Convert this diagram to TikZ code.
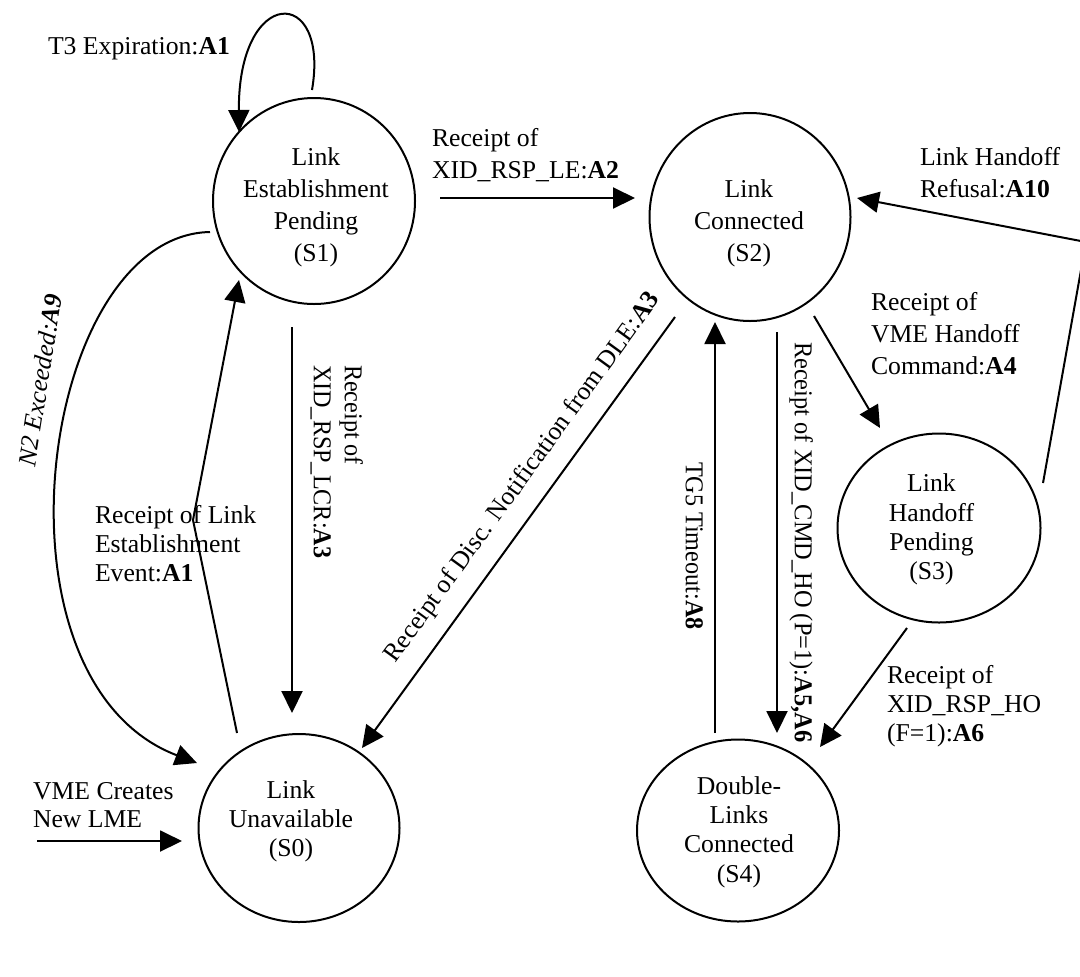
\documentclass[tikz,border=0pt]{standalone}
\usepackage{fontspec}
\setmainfont{Liberation Serif}
\usepackage{graphicx}
\usetikzlibrary{arrows.meta,shapes.geometric}
\begin{document}
\begin{tikzpicture}[x=0.5pt,y=-0.5pt,
  every node/.style={inner sep=0pt,outer sep=0pt},
  txt/.style={font=\fontsize{12.85}{16}\selectfont},
  txtb/.style={font=\fontsize{12.85}{14.6}\selectfont},
  state/.style={draw,ellipse,line width=1pt},
  lbl/.style={align=left,anchor=north west},
  conn/.style={line width=1pt,-{Triangle[length=11pt,width=10.5pt]}}]
\useasboundingbox (0,0) rectangle (1080,976);
\clip (0,0) rectangle (1080,976);

% states
\node[state,minimum width=101pt,minimum height=103pt] (s1) at (314,201) {};
\node[state,minimum width=100.5pt,minimum height=104pt] (s2) at (750,217) {};
\node[state,minimum width=100.5pt,minimum height=94pt] (s0) at (299,828) {};
\node[state,minimum width=101.5pt,minimum height=94.5pt] (s3) at (939,528) {};
\node[state,minimum width=101pt,minimum height=91pt] (s4) at (738,830.5) {};

\node[txt,align=center] (s1t) at (316,207.5) {Link\\Establishment\\Pending\\(S1)};
\node[txt,align=center] (s2t) at (749,223.5) {Link\\Connected\\(S2)};
\node[txtb,align=center] (s0t) at (291,821) {Link\\Unavailable\\(S0)};
\node[txtb,align=center] (s3t) at (931.5,529.5) {Link\\Handoff\\Pending\\(S3)};
\node[txtb,align=center] (s4t) at (739,832) {Double-\\Links\\Connected\\(S4)};

% connector end points
\coordinate (loopA) at (312,90);
\coordinate (loopB) at (239,132);
\coordinate (e12a) at (440,198);
\coordinate (e12b) at (635,198);
\coordinate (e10a) at (292,327);
\coordinate (e10b) at (292,713);
\coordinate (e01a) at (237,733);
\coordinate (e01m) at (193,520);
\coordinate (e01b) at (239,280);
\coordinate (n2a) at (210,232);
\coordinate (n2b) at (197,763);
\coordinate (init) at (37,841);
\coordinate (inite) at (182,841);
\coordinate (e20a) at (675,317);
\coordinate (e20b) at (362,748);
\coordinate (e42a) at (715,733);
\coordinate (e42b) at (715,322);
\coordinate (e24a) at (777,332);
\coordinate (e24b) at (777,733);
\coordinate (e23a) at (814,316);
\coordinate (e23b) at (880,428);
\coordinate (e32a) at (1043,483);
\coordinate (e32m) at (1086,242);
\coordinate (e32b) at (857,198);
\coordinate (e34a) at (907,628);
\coordinate (e34b) at (820,747);

% connectors
\draw[conn] (loopA) .. controls (330,-15) and (238,-15) .. (loopB);
\draw[conn] (e12a) -- (e12b);
\draw[conn] (e10a) -- (e10b);
\draw[conn] (e01a) -- (e01m) -- (e01b);
\draw[conn] (n2a) .. controls (40,235) and (-20,680) .. (n2b);
\draw[conn] (init) -- (inite);
\draw[conn] (e20a) -- (e20b);
\draw[conn] (e42a) -- (e42b);
\draw[conn] (e24a) -- (e24b);
\draw[conn] (e23a) -- (e23b);
\draw[conn] (e32a) -- (e32m) -- (e32b);
\draw[conn] (e34a) -- (e34b);

% labels
\node[txt,lbl] (lT3) at (48,37) {T3 Expiration:\textbf{A1}};
\node[txt,lbl] (lA2) at (432,128) {Receipt of\\XID\_RSP\_LE:\textbf{A2}};
\node[txt,lbl] (lA10) at (920,147) {Link Handoff\\Refusal:\textbf{A10}};
\node[txt,lbl] (lA4) at (871,292) {Receipt of\\VME Handoff\\Command:\textbf{A4}};
\node[txtb,lbl] (lEv) at (95,505) {Receipt of Link\\Establishment\\Event:\textbf{A1}};
\node[font=\fontsize{12.85}{14}\selectfont,lbl] (lVME) at (33,782) {VME Creates\\New LME};
\node[txtb,lbl] (lA6) at (887,665) {Receipt of\\XID\_RSP\_HO\\(F=1):\textbf{A6}};

\node[font=\fontsize{12.85}{15.5}\selectfont,lbl,rotate=-90] (lLCR) at (363,365)
  {\scalebox{0.94}[1]{Receipt of}\\\scalebox{0.94}[1]{XID\_RSP\_LCR:\textbf{A3}}};
\node[txt,anchor=north west,rotate=-90] (lTG5) at (703,462)
  {\scalebox{0.94}[1]{TG5 Timeout:\textbf{A8}}};
\node[txt,anchor=north west,rotate=-90] (lCMD) at (813,342)
  {\scalebox{0.95}[1]{Receipt of XID\_CMD\_HO (P=1):\textbf{A5,A6}}};
\node[txt,rotate=81] (lN2) at (40,380) {\textit{N2 Exceeded:\textbf{A9}}};
\node[txt,rotate=54] (lDisc) at (523,478) {Receipt of Disc. Notification from DLE:\textbf{A3}};
\end{tikzpicture}
\end{document}
